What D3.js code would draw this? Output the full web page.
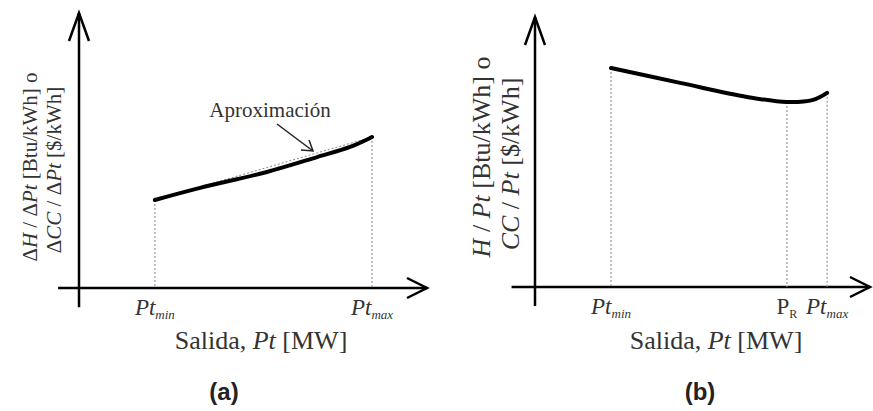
<!DOCTYPE html>
<html>
<head>
<meta charset="utf-8">
<script src="https://cdn.jsdelivr.net/npm/d3@7"></script>
<style>
  body { margin: 0; background: #fff; }
  text { font-family: "Liberation Serif", "DejaVu Serif", serif; fill: #333; }
</style>
</head>
<body>
<div id="chart"></div>
<script>
// panel (a): incremental rate curve (0-100 abstract units)
var curveA_x = [21.8, 34.8, 54.0, 68.4, 77.9, 83.6, 84.2];
var curveA_y = [32.0, 36.4, 42.2, 47.6, 51.3, 54.5, 54.9];
var approxA_x = [21.8, 84.2];
var approxA_y = [32.0, 54.9];
var ticksA = [{x: 21.8, name: "min"}, {x: 84.2, name: "max"}];

// panel (b): average rate curve
var curveB_x = [22.7, 43.3, 63.3, 75.2, 83.0, 87.2];
var curveB_y = [81.1, 75.6, 70.4, 68.5, 69.3, 71.9];
var ticksB = [{x: 22.7, name: "min"}, {x: 75.2, name: "R"}, {x: 87.2, name: "max"}];

var width = 873, height = 411;

var svg = d3.select("#chart")
    .append("svg")
    .attr("width", width)
    .attr("height", height);

function drawPanel(opt) {
    var x = d3.scaleLinear().domain([0, 100]).range(opt.xr);
    var y = d3.scaleLinear().domain([0, 100]).range(opt.yr);
    var g = svg.append("g");

    // axes
    g.append("line")
        .attr("x1", x(opt.xmin)).attr("x2", x(100))
        .attr("y1", y(0)).attr("y2", y(0))
        .attr("stroke", "#000").attr("stroke-width", 2.5);
    g.append("line")
        .attr("x1", x(0)).attr("x2", x(0))
        .attr("y1", y(opt.ymin)).attr("y2", y(100))
        .attr("stroke", "#000").attr("stroke-width", 2.5);
    // arrow heads
    g.append("path")
        .attr("d", "M" + (x(100) - 20) + "," + (y(0) - 10) + "L" + x(100) + "," + y(0) + "L" + (x(100) - 20) + "," + (y(0) + 10))
        .attr("fill", "none").attr("stroke", "#000").attr("stroke-width", 2.5);
    g.append("path")
        .attr("d", "M" + (x(0) - 10) + "," + (y(100) + 28) + "L" + x(0) + "," + y(100) + "L" + (x(0) + 10) + "," + (y(100) + 28))
        .attr("fill", "none").attr("stroke", "#000").attr("stroke-width", 2.5);

    var line = d3.line()
        .x(function(d) { return x(d[0]); })
        .y(function(d) { return y(d[1]); })
        .curve(d3.curveCatmullRom);

    var pts = d3.zip(opt.cx, opt.cy);

    // dotted drop lines, from the curve down to the axis
    var lookup = d3.scaleLinear().domain(opt.cx).range(opt.cy);
    opt.ticks.forEach(function(t) {
        g.append("line")
            .attr("x1", x(t.x)).attr("x2", x(t.x))
            .attr("y1", y(lookup(t.x))).attr("y2", y(0))
            .attr("stroke", "#999").attr("stroke-width", 1.2)
            .attr("stroke-dasharray", "2,2");
    });

    if (opt.ax) {
        g.append("path")
            .attr("d", line(d3.zip(opt.ax, opt.ay)))
            .attr("fill", "none").attr("stroke", "#888")
            .attr("stroke-width", 1).attr("stroke-dasharray", "2,2");
    }

    g.append("path")
        .attr("d", line(pts))
        .attr("fill", "none").attr("stroke", "#000")
        .attr("stroke-width", 4).attr("stroke-linecap", "round");

    // tick labels
    opt.ticks.forEach(function(t) {
        var tx = g.append("text")
            .attr("x", x(t.x)).attr("y", y(0) + 27)
            .attr("text-anchor", "middle")
            .style("font-size", "23px");
        if (t.name == "R") {
            tx.append("tspan").text("P");
            tx.append("tspan").attr("dy", 4).style("font-size", "12px").text("R");
        } else {
            tx.append("tspan").style("font-style", "italic").text("Pt");
            tx.append("tspan").attr("dy", 4).style("font-size", "13px").style("font-style", "italic").text(t.name);
        }
    });

    // x title
    var xt = g.append("text")
        .attr("x", opt.xtitle).attr("y", 349)
        .attr("text-anchor", "middle")
        .style("font-size", "26px");
    xt.append("tspan").text("Salida, ");
    xt.append("tspan").style("font-style", "italic").text("Pt");
    xt.append("tspan").text(" [MW]");

    // y title, two rotated lines
    opt.ytitle.forEach(function(l) {
        var t = g.append("text")
            .attr("transform", "translate(" + l.x + "," + l.y + ") rotate(-90)")
            .attr("text-anchor", "middle")
            .attr("dy", "0.35em")
            .style("font-size", l.size + "px");
        l.parts.forEach(function(p) {
            t.append("tspan").style("font-style", p[1] ? "italic" : "normal").text(p[0]);
        });
    });

    // panel tag
    g.append("text")
        .attr("x", opt.tag[0]).attr("y", 400)
        .attr("text-anchor", "middle")
        .style("font-family", "'Liberation Sans', Arial, sans-serif")
        .style("font-weight", "bold").style("font-size", "24px")
        .style("fill", "#222")
        .text(opt.tag[1]);

    return {x: x, y: y, g: g};
}

var pa = drawPanel({
    xr: [79, 427], yr: [288, 13], xmin: -6, ymin: -7,
    cx: curveA_x, cy: curveA_y, ax: approxA_x, ay: approxA_y,
    ticks: ticksA, xtitle: 261,
    ytitle: [
        {x: 30, y: 167, size: 21, parts: [["\u0394", 0], ["H", 1], [" / \u0394", 0], ["Pt", 1], [" [Btu/kWh] o", 0]]},
        {x: 54, y: 170, size: 21, parts: [["\u0394", 0], ["CC", 1], [" / \u0394", 0], ["Pt", 1], [" [$/kWh]", 0]]}
    ],
    tag: [224, "(a)"]
});

// annotation on panel (a)
pa.g.append("text")
    .attr("x", 270).attr("y", 117)
    .attr("text-anchor", "middle")
    .style("font-size", "21px")
    .text("Aproximación");
pa.g.append("line")
    .attr("x1", 277).attr("y1", 124).attr("x2", 313).attr("y2", 151)
    .attr("stroke", "#222").attr("stroke-width", 1.5);
pa.g.append("path")
    .attr("d", "M301,150L313,151L309,140")
    .attr("fill", "none").attr("stroke", "#222").attr("stroke-width", 1.5);

drawPanel({
    xr: [535, 870], yr: [287, 17], xmin: -7, ymin: -7,
    cx: curveB_x, cy: curveB_y,
    ticks: ticksB, xtitle: 716,
    ytitle: [
        {x: 481, y: 157, size: 26, parts: [["H", 1], [" / ", 0], ["Pt", 1], [" [Btu/kWh] o", 0]]},
        {x: 510, y: 164, size: 26, parts: [["CC", 1], [" / ", 0], ["Pt", 1], [" [$/kWh]", 0]]}
    ],
    tag: [700, "(b)"]
});
</script>
</body>
</html>
